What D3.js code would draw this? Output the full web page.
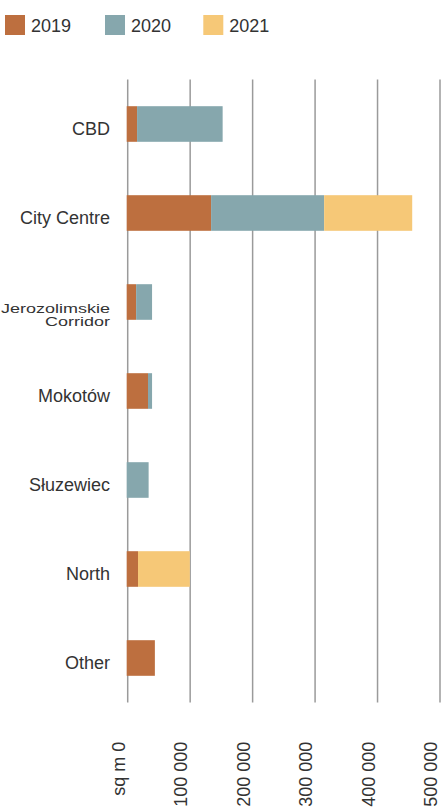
<!DOCTYPE html>
<html>
<head>
<meta charset="utf-8">
<script src="https://cdn.jsdelivr.net/npm/d3@7"></script>
<style>
  html, body { margin: 0; padding: 0; background: #fff; }
  svg { display: block; }
  text { font-family: "Liberation Sans", Arial, Helvetica, sans-serif; fill: #333; }
</style>
</head>
<body>
<svg id="chart" width="445" height="810"></svg>
<script>
// Office supply by zone (sq m), stacked by year of completion
const categories = ["CBD", "City Centre", "Jerozolimskie\nCorridor", "Mokotów", "Słuzewiec", "North", "Other"];
const years = ["2019", "2020", "2021"];
const values2019 = [15000, 133500, 13500, 32500, 0, 16500, 43500];
const values2020 = [137000, 181000, 25500, 6500, 33500, 0, 0];
const values2021 = [0, 141000, 0, 0, 0, 83000, 0];
const tickValues = [0, 100000, 200000, 300000, 400000, 500000];
const tickLabels = ["sq m 0", "100 000", "200 000", "300 000", "400 000", "500 000"];
const colors = ["#BD6F3F", "#86A7AD", "#F6C877"];

const rows = categories.map((c, i) => ({
  cat: c, "2019": values2019[i], "2020": values2020[i], "2021": values2021[i]
}));

const svg = d3.select("#chart");

const x = d3.scaleLinear().domain([0, 500000]).range([127.7, 440]);
const y = d3.scaleBand().domain(categories).range([79.5, 702.5])
  .paddingInner(0.6).paddingOuter(0.3);
const color = d3.scaleOrdinal().domain(years).range(colors);

// vertical gridlines
svg.append("g").selectAll("line").data(tickValues).join("line")
  .attr("x1", d => x(d)).attr("x2", d => x(d))
  .attr("y1", y.range()[0]).attr("y2", y.range()[1])
  .attr("stroke", "#9a9a9a").attr("stroke-width", 1.5);

// stacked bars
const series = d3.stack().keys(years)(rows);
svg.append("g").selectAll("g").data(series).join("g")
  .attr("fill", d => color(d.key))
  .selectAll("rect").data(d => d).join("rect")
  .attr("x", d => x(d[0]) - (d[0] === 0 ? 1 : 0))
  .attr("y", d => y(d.data.cat))
  .attr("width", d => Math.max(0, x(d[1]) - x(d[0]) + (d[0] === 0 && d[1] > 0 ? 1 : 0)))
  .attr("height", y.bandwidth());

// category labels
const labels = svg.append("g");
categories.forEach(c => {
  const cy = y(c) + y.bandwidth() / 2;
  const lines = c.split("\n");
  if (lines.length === 1) {
    labels.append("text")
      .attr("x", 110).attr("y", cy + 11)
      .attr("text-anchor", "end").attr("font-size", 18)
      .text(c);
  } else {
    const baselines = [10.5, 24];
    lines.forEach((ln, k) => {
      labels.append("text")
        .attr("transform", `translate(110,${cy + baselines[k]}) scale(1,0.76)`)
        .attr("text-anchor", "end").attr("font-size", 18)
        .text(ln);
    });
  }
});

// rotated axis tick labels
svg.append("g").selectAll("text").data(tickValues).join("text")
  .attr("transform", d => `translate(${x(d) - 3},741.7) rotate(-90)`)
  .attr("text-anchor", "end").attr("font-size", 18)
  .text((d, i) => tickLabels[i]);

// legend
const legendX = [5, 105, 203.3];
const legend = svg.append("g").selectAll("g").data(years).join("g")
  .attr("transform", (d, i) => `translate(${legendX[i]},15)`);
legend.append("rect").attr("width", 20).attr("height", 20).attr("fill", d => color(d));
legend.append("text").attr("x", 26).attr("y", 17.3).attr("font-size", 18).text(d => d);
</script>
</body>
</html>
